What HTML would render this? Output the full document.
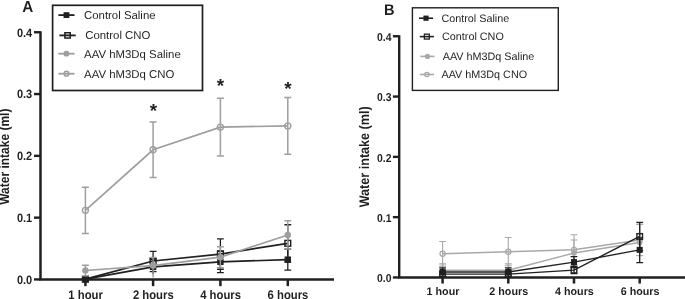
<!DOCTYPE html>
<html><head><meta charset="utf-8"><title>Water intake</title>
<style>html,body{margin:0;padding:0;background:#fff;}svg{display:block;filter:grayscale(1)}text{font-family:"Liberation Sans",sans-serif;fill:#231f20;text-rendering:geometricPrecision}</style>
</head><body>
<svg width="685" height="299" viewBox="0 0 685 299">
<rect width="685" height="299" fill="#fff"/>
<path d="M85.40 277.29V281.00M82.00 277.29H88.80M82.00 281.00H88.80" stroke="#231f20" stroke-width="1.3" fill="none"/>
<path d="M153.10 259.49V274.32M149.70 259.49H156.50" stroke="#231f20" stroke-width="1.3" fill="none"/>
<path d="M220.40 251.02V272.65M217.00 251.02H223.80M217.00 272.65H223.80" stroke="#231f20" stroke-width="1.3" fill="none"/>
<path d="M287.80 249.17V270.18M284.40 249.17H291.20M284.40 270.18H291.20" stroke="#231f20" stroke-width="1.3" fill="none"/>
<path d="M85.40 279.14L153.10 266.90L220.40 261.84L287.80 259.67" stroke="#231f20" stroke-width="1.7" fill="none"/>
<rect x="82.20" y="275.94" width="6.4" height="6.4" fill="#231f20"/>
<rect x="149.90" y="263.70" width="6.4" height="6.4" fill="#231f20"/>
<rect x="217.20" y="258.64" width="6.4" height="6.4" fill="#231f20"/>
<rect x="284.60" y="256.47" width="6.4" height="6.4" fill="#231f20"/>
<path d="M85.40 277.29V281.00M82.00 277.29H88.80M82.00 281.00H88.80" stroke="#231f20" stroke-width="1.3" fill="none"/>
<path d="M153.10 251.33V271.72M149.70 251.33H156.50M149.70 271.72H156.50" stroke="#231f20" stroke-width="1.3" fill="none"/>
<path d="M220.40 238.97V269.25M217.00 238.97H223.80M217.00 269.25H223.80" stroke="#231f20" stroke-width="1.3" fill="none"/>
<path d="M287.80 224.76V261.84M284.40 224.76H291.20M284.40 261.84H291.20" stroke="#231f20" stroke-width="1.3" fill="none"/>
<path d="M85.40 279.14L153.10 260.97L220.40 254.11L287.80 243.30" stroke="#231f20" stroke-width="1.7" fill="none"/>
<rect x="82.50" y="276.24" width="5.80" height="5.80" fill="none" stroke="#231f20" stroke-width="1.4"/>
<rect x="150.20" y="258.07" width="5.80" height="5.80" fill="none" stroke="#231f20" stroke-width="1.4"/>
<rect x="217.50" y="251.21" width="5.80" height="5.80" fill="none" stroke="#231f20" stroke-width="1.4"/>
<rect x="284.90" y="240.40" width="5.80" height="5.80" fill="none" stroke="#231f20" stroke-width="1.4"/>
<path d="M85.40 265.24V275.74M82.00 265.24H88.80M82.00 275.74H88.80" stroke="#9e9e9e" stroke-width="1.4" fill="none"/>
<path d="M153.10 257.39V277.60M149.70 257.39H156.50" stroke="#9e9e9e" stroke-width="1.4" fill="none"/>
<path d="M220.40 246.70V267.71M217.00 246.70H223.80M217.00 267.71H223.80" stroke="#9e9e9e" stroke-width="1.4" fill="none"/>
<path d="M287.80 220.74V249.17M284.40 220.74H291.20M284.40 249.17H291.20" stroke="#9e9e9e" stroke-width="1.4" fill="none"/>
<path d="M85.40 270.49L153.10 265.55L220.40 257.20L287.80 234.95" stroke="#9e9e9e" stroke-width="1.7" fill="none"/>
<circle cx="85.40" cy="270.49" r="3.2" fill="#9e9e9e"/>
<circle cx="153.10" cy="265.55" r="3.2" fill="#9e9e9e"/>
<circle cx="220.40" cy="257.20" r="3.2" fill="#9e9e9e"/>
<circle cx="287.80" cy="234.95" r="3.2" fill="#9e9e9e"/>
<path d="M85.40 187.18V233.53M81.90 187.18H88.90M81.90 233.53H88.90" stroke="#9e9e9e" stroke-width="1.5" fill="none"/>
<path d="M153.10 121.98V177.60M149.60 121.98H156.60M149.60 177.60H156.60" stroke="#9e9e9e" stroke-width="1.5" fill="none"/>
<path d="M220.40 98.19V156.04M216.90 98.19H223.90M216.90 156.04H223.90" stroke="#9e9e9e" stroke-width="1.5" fill="none"/>
<path d="M287.80 97.57V154.18M284.30 97.57H291.30M284.30 154.18H291.30" stroke="#9e9e9e" stroke-width="1.5" fill="none"/>
<path d="M85.40 210.36L153.10 149.79L220.40 127.11L287.80 125.88" stroke="#9e9e9e" stroke-width="1.7" fill="none"/>
<circle cx="85.40" cy="210.36" r="3.00" fill="none" stroke="#9e9e9e" stroke-width="1.4"/>
<circle cx="153.10" cy="149.79" r="3.00" fill="none" stroke="#9e9e9e" stroke-width="1.4"/>
<circle cx="220.40" cy="127.11" r="3.00" fill="none" stroke="#9e9e9e" stroke-width="1.4"/>
<circle cx="287.80" cy="125.88" r="3.00" fill="none" stroke="#9e9e9e" stroke-width="1.4"/>
<path d="M40.5 31.25V279.45" stroke="#231f20" stroke-width="2.5" fill="none"/>
<path d="M39.25 279.45H334" stroke="#231f20" stroke-width="2.5" fill="none"/>
<path d="M34.00 279.45H40.5" stroke="#231f20" stroke-width="2.4" fill="none"/>
<text transform="translate(32.20 283.85) scale(1.000 1.1)" text-anchor="end" font-weight="bold" font-size="11.0">0.0</text>
<path d="M34.00 217.65H40.5" stroke="#231f20" stroke-width="2.4" fill="none"/>
<text transform="translate(32.20 222.05) scale(1.000 1.1)" text-anchor="end" font-weight="bold" font-size="11.0">0.1</text>
<path d="M34.00 155.85H40.5" stroke="#231f20" stroke-width="2.4" fill="none"/>
<text transform="translate(32.20 160.25) scale(1.000 1.1)" text-anchor="end" font-weight="bold" font-size="11.0">0.2</text>
<path d="M34.00 94.05H40.5" stroke="#231f20" stroke-width="2.4" fill="none"/>
<text transform="translate(32.20 98.45) scale(1.000 1.1)" text-anchor="end" font-weight="bold" font-size="11.0">0.3</text>
<path d="M34.00 32.25H40.5" stroke="#231f20" stroke-width="2.4" fill="none"/>
<text transform="translate(32.20 36.65) scale(1.000 1.1)" text-anchor="end" font-weight="bold" font-size="11.0">0.4</text>
<path d="M85.40 279.45V286.15" stroke="#231f20" stroke-width="2.5" fill="none"/>
<text transform="translate(85.60 299.0) scale(1 1.1)" text-anchor="middle" font-weight="bold" font-size="11.3">1 hour</text>
<path d="M153.10 279.45V286.15" stroke="#231f20" stroke-width="2.5" fill="none"/>
<text transform="translate(153.30 299.0) scale(1 1.1)" text-anchor="middle" font-weight="bold" font-size="11.3">2 hours</text>
<path d="M220.40 279.45V286.15" stroke="#231f20" stroke-width="2.5" fill="none"/>
<text transform="translate(220.60 299.0) scale(1 1.1)" text-anchor="middle" font-weight="bold" font-size="11.3">4 hours</text>
<path d="M287.80 279.45V286.15" stroke="#231f20" stroke-width="2.5" fill="none"/>
<text transform="translate(288.00 299.0) scale(1 1.1)" text-anchor="middle" font-weight="bold" font-size="11.3">6 hours</text>
<text transform="translate(9.4 156.7) rotate(-90) scale(1 1.13)" text-anchor="middle" font-weight="bold" font-size="12.0">Water intake (ml)</text>
<text transform="translate(22.3 11.7) scale(0.98 1.03)" font-weight="bold" font-size="15.6">A</text>
<rect x="52.6" y="5.3" width="149.90" height="85.20" fill="#fff" stroke="#231f20" stroke-width="1.7"/>
<path d="M58.4 15.1H74.5" stroke="#231f20" stroke-width="1.8" fill="none"/>
<rect x="63.55" y="12.20" width="5.8" height="5.8" fill="#231f20"/>
<text x="84.0" y="19.3" font-size="11.4">Control Saline</text>
<path d="M59.4 35.4H75.7" stroke="#231f20" stroke-width="1.8" fill="none"/>
<rect x="64.90" y="32.75" width="5.30" height="5.30" fill="none" stroke="#231f20" stroke-width="1.5"/>
<text x="85.2" y="39.0" font-size="11.4">Control CNO</text>
<path d="M58.4 53.7H74.5" stroke="#9e9e9e" stroke-width="1.8" fill="none"/>
<circle cx="66.45" cy="53.70" r="2.9" fill="#9e9e9e"/>
<text x="84.1" y="57.6" font-size="11.4">AAV hM3Dq Saline</text>
<path d="M58.4 73.7H74.5" stroke="#9e9e9e" stroke-width="1.8" fill="none"/>
<circle cx="66.45" cy="73.70" r="2.35" fill="none" stroke="#9e9e9e" stroke-width="1.5"/>
<text x="84.1" y="77.8" font-size="11.4">AAV hM3Dq CNO</text>
<text x="153.4" y="117.4" text-anchor="middle" font-weight="bold" font-size="19">*</text>
<text x="220.4" y="92.4" text-anchor="middle" font-weight="bold" font-size="19">*</text>
<text x="287.9" y="94.7" text-anchor="middle" font-weight="bold" font-size="19">*</text>
<path d="M442.60 263.88V276.55M439.20 263.88H446.00M439.20 276.55H446.00" stroke="#a6a8aa" stroke-width="1.1" fill="none"/>
<path d="M508.30 263.88V276.55M504.90 263.88H511.70M504.90 276.55H511.70" stroke="#a6a8aa" stroke-width="1.1" fill="none"/>
<path d="M574.00 240.06V265.99M570.60 240.06H577.40M570.60 265.99H577.40" stroke="#a6a8aa" stroke-width="1.1" fill="none"/>
<path d="M639.70 224.39V255.44M636.30 224.39H643.10M636.30 255.44H643.10" stroke="#a6a8aa" stroke-width="1.1" fill="none"/>
<path d="M442.60 270.21L508.30 270.21L574.00 253.03L639.70 242.48" stroke="#a6a8aa" stroke-width="1.35" fill="none"/>
<circle cx="442.60" cy="270.21" r="2.8" fill="#a6a8aa"/>
<circle cx="508.30" cy="270.21" r="2.8" fill="#a6a8aa"/>
<circle cx="574.00" cy="253.03" r="2.8" fill="#a6a8aa"/>
<circle cx="639.70" cy="242.48" r="2.8" fill="#a6a8aa"/>
<path d="M442.60 241.45V266.17M439.20 241.45H446.00M439.20 266.17H446.00" stroke="#a6a8aa" stroke-width="1.1" fill="none"/>
<path d="M508.30 237.47V265.81M504.90 237.47H511.70M504.90 265.81H511.70" stroke="#a6a8aa" stroke-width="1.1" fill="none"/>
<path d="M574.00 234.76V264.91M570.60 234.76H577.40M570.60 264.91H577.40" stroke="#a6a8aa" stroke-width="1.1" fill="none"/>
<path d="M639.70 224.39V255.74M636.30 224.39H643.10M636.30 255.74H643.10" stroke="#a6a8aa" stroke-width="1.1" fill="none"/>
<path d="M442.60 253.81L508.30 251.64L574.00 249.83L639.70 240.06" stroke="#a6a8aa" stroke-width="1.5" fill="none"/>
<circle cx="442.60" cy="253.81" r="2.60" fill="none" stroke="#a6a8aa" stroke-width="1.2"/>
<circle cx="508.30" cy="251.64" r="2.60" fill="none" stroke="#a6a8aa" stroke-width="1.2"/>
<circle cx="574.00" cy="249.83" r="2.60" fill="none" stroke="#a6a8aa" stroke-width="1.2"/>
<circle cx="639.70" cy="240.06" r="2.60" fill="none" stroke="#a6a8aa" stroke-width="1.2"/>
<path d="M442.60 267.80V276.24M439.20 267.80H446.00M439.20 276.24H446.00" stroke="#231f20" stroke-width="1.3" fill="none"/>
<path d="M508.30 267.80V276.24M504.90 267.80H511.70M504.90 276.24H511.70" stroke="#231f20" stroke-width="1.3" fill="none"/>
<path d="M574.00 256.65V267.50M570.60 256.65H577.40M570.60 267.50H577.40" stroke="#231f20" stroke-width="1.3" fill="none"/>
<path d="M639.70 237.83V262.56M636.30 237.83H643.10M636.30 262.56H643.10" stroke="#231f20" stroke-width="1.3" fill="none"/>
<path d="M442.60 272.02L508.30 272.02L574.00 262.07L639.70 249.89" stroke="#231f20" stroke-width="1.35" fill="none"/>
<rect x="439.60" y="269.02" width="6" height="6" fill="#231f20"/>
<rect x="505.30" y="269.02" width="6" height="6" fill="#231f20"/>
<rect x="571.00" y="259.07" width="6" height="6" fill="#231f20"/>
<rect x="636.70" y="246.89" width="6" height="6" fill="#231f20"/>
<path d="M442.60 271.12V277.15M439.20 271.12H446.00M439.20 277.15H446.00" stroke="#231f20" stroke-width="1.3" fill="none"/>
<path d="M508.30 271.12V277.15M504.90 271.12H511.70M504.90 277.15H511.70" stroke="#231f20" stroke-width="1.3" fill="none"/>
<path d="M574.00 266.48V273.71M570.60 266.48H577.40M570.60 273.71H577.40" stroke="#231f20" stroke-width="1.3" fill="none"/>
<path d="M639.70 222.28V250.62M636.30 222.28H643.10M636.30 250.62H643.10" stroke="#231f20" stroke-width="1.3" fill="none"/>
<path d="M442.60 274.13L508.30 274.13L574.00 270.09L639.70 236.45" stroke="#231f20" stroke-width="1.4" fill="none"/>
<rect x="439.80" y="271.33" width="5.60" height="5.60" fill="none" stroke="#231f20" stroke-width="1.4"/>
<rect x="505.50" y="271.33" width="5.60" height="5.60" fill="none" stroke="#231f20" stroke-width="1.4"/>
<rect x="571.20" y="267.29" width="5.60" height="5.60" fill="none" stroke="#231f20" stroke-width="1.4"/>
<rect x="636.90" y="233.65" width="5.60" height="5.60" fill="none" stroke="#231f20" stroke-width="1.4"/>
<path d="M399.2 35.30V277.45" stroke="#231f20" stroke-width="2.4" fill="none"/>
<path d="M398.00 277.45H686" stroke="#231f20" stroke-width="2.4" fill="none"/>
<path d="M392.90 277.45H399.2" stroke="#231f20" stroke-width="2.4" fill="none"/>
<text transform="translate(391.50 282.35) scale(1.000 1.1)" text-anchor="end" font-weight="bold" font-size="10.4">0.0</text>
<path d="M392.90 217.15H399.2" stroke="#231f20" stroke-width="2.4" fill="none"/>
<text transform="translate(391.50 222.05) scale(1.000 1.1)" text-anchor="end" font-weight="bold" font-size="10.4">0.1</text>
<path d="M392.90 156.85H399.2" stroke="#231f20" stroke-width="2.4" fill="none"/>
<text transform="translate(391.50 161.75) scale(1.000 1.1)" text-anchor="end" font-weight="bold" font-size="10.4">0.2</text>
<path d="M392.90 96.55H399.2" stroke="#231f20" stroke-width="2.4" fill="none"/>
<text transform="translate(391.50 101.45) scale(1.000 1.1)" text-anchor="end" font-weight="bold" font-size="10.4">0.3</text>
<path d="M392.90 36.25H399.2" stroke="#231f20" stroke-width="2.4" fill="none"/>
<text transform="translate(391.50 41.15) scale(1.000 1.1)" text-anchor="end" font-weight="bold" font-size="10.4">0.4</text>
<path d="M442.60 277.45V283.55" stroke="#231f20" stroke-width="2.5" fill="none"/>
<text transform="translate(443.00 295.3) scale(1 1.02)" text-anchor="middle" font-weight="bold" font-size="10.75">1 hour</text>
<path d="M508.30 277.45V283.55" stroke="#231f20" stroke-width="2.5" fill="none"/>
<text transform="translate(508.70 295.3) scale(1 1.02)" text-anchor="middle" font-weight="bold" font-size="10.75">2 hours</text>
<path d="M574.00 277.45V283.55" stroke="#231f20" stroke-width="2.5" fill="none"/>
<text transform="translate(574.40 295.3) scale(1 1.02)" text-anchor="middle" font-weight="bold" font-size="10.75">4 hours</text>
<path d="M639.70 277.45V283.55" stroke="#231f20" stroke-width="2.5" fill="none"/>
<text transform="translate(640.10 295.3) scale(1 1.02)" text-anchor="middle" font-weight="bold" font-size="10.75">6 hours</text>
<text transform="translate(369.3 156.8) rotate(-90) scale(1 1.1)" text-anchor="middle" font-weight="bold" font-size="12.6">Water intake (ml)</text>
<text transform="translate(383.9 14.9) scale(0.945 1.0)" font-weight="bold" font-size="15.4">B</text>
<rect x="412.4" y="7.8" width="145.90" height="82.60" fill="#fff" stroke="#231f20" stroke-width="1.4"/>
<path d="M419.0 18.2H433.0" stroke="#231f20" stroke-width="1.6" fill="none"/>
<rect x="423.40" y="15.60" width="5.2" height="5.2" fill="#231f20"/>
<text x="441.4" y="22.0" font-size="10.8">Control Saline</text>
<path d="M419.8 36.6H433.9" stroke="#231f20" stroke-width="1.6" fill="none"/>
<rect x="424.40" y="34.15" width="4.90" height="4.90" fill="none" stroke="#231f20" stroke-width="1.3"/>
<text x="442.0" y="40.2" font-size="10.8">Control CNO</text>
<path d="M420.4 56.4H434.5" stroke="#a6a8aa" stroke-width="1.6" fill="none"/>
<circle cx="427.45" cy="56.40" r="2.6" fill="#a6a8aa"/>
<text x="442.7" y="60.1" font-size="10.8">AAV hM3Dq Saline</text>
<path d="M419.8 74.5H434.0" stroke="#a6a8aa" stroke-width="1.6" fill="none"/>
<circle cx="426.90" cy="74.50" r="2.15" fill="none" stroke="#a6a8aa" stroke-width="1.3"/>
<text x="441.5" y="78.2" font-size="10.8">AAV hM3Dq CNO</text>
</svg>
</body></html>
